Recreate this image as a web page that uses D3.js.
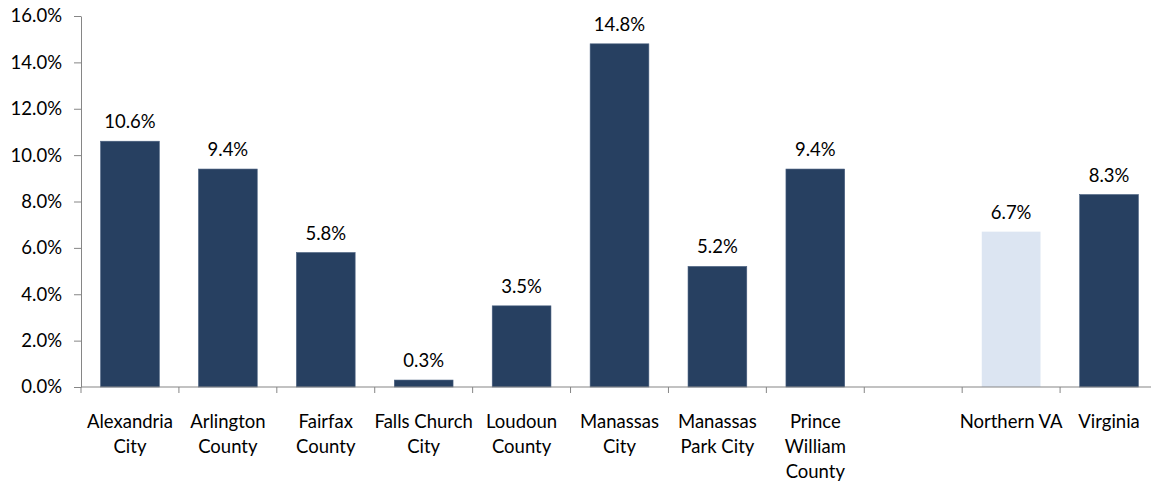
<!DOCTYPE html>
<html><head><meta charset="utf-8">
<script src="https://cdn.jsdelivr.net/npm/d3@7"></script>
<style>body{margin:0;background:#fff;} text{font-family:Lato,"Open Sans",sans-serif;fill:#000;}</style>
</head><body><svg id="c" width="1151" height="481"></svg>
<script>
const categories = ["Alexandria City","Arlington County","Fairfax County","Falls Church City","Loudoun County","Manassas City","Manassas Park City","Prince William County","","Northern VA","Virginia"];
const labelLines = [["Alexandria","City"],["Arlington","County"],["Fairfax","County"],["Falls Church","City"],["Loudoun","County"],["Manassas","City"],["Manassas","Park City"],["Prince","William","County"],[],["Northern VA"],["Virginia"]];
const values = [10.6, 9.4, 5.8, 0.3, 3.5, 14.8, 5.2, 9.4, null, 6.7, 8.3];
const highlight = ["Northern VA"];
const yTicks = [0,2,4,6,8,10,12,14,16];

const FS = 18.5;
const svg = d3.select("#c");
const x = d3.scaleBand().domain(categories).range([81,1158]).paddingInner(0.4).paddingOuter(0.2);
const y = d3.scaleLinear().domain([0,16]).range([387,16]);
const axisColor = "#868686";

// bars
svg.append("g").selectAll("rect").data(categories.map((c,i)=>({c,v:values[i]})).filter(d=>d.v!=null))
  .join("rect")
  .attr("x", d=>x(d.c)).attr("width", x.bandwidth())
  .attr("y", d=>y(d.v)).attr("height", d=>y(0)-y(d.v))
  .attr("fill", d=>highlight.includes(d.c)?"#dce5f2":"#274061")
  .attr("stroke", d=>highlight.includes(d.c)?"none":"#4a6080").attr("stroke-width",0.6);

// data labels
svg.append("g").selectAll("text").data(categories.map((c,i)=>({c,v:values[i]})).filter(d=>d.v!=null))
  .join("text")
  .attr("x", d=>x(d.c)+x.bandwidth()/2).attr("y", d=>y(d.v)-13)
  .attr("text-anchor","middle").attr("font-size",FS)
  .text(d=>d.v.toFixed(1)+"%");

// y axis
const ya = svg.append("g").attr("transform","translate(81,0)")
  .call(d3.axisLeft(y).tickValues(yTicks).tickSize(7).tickSizeOuter(0).tickPadding(12).tickFormat(d=>d.toFixed(1)+"%"));
ya.selectAll("line,path").attr("stroke",axisColor);
ya.selectAll("text").attr("font-size",FS).attr("font-family","Lato,'Open Sans',sans-serif").attr("fill","#000");

// x axis
const bounds = categories.map(c=>x(c)-x.step()*x.paddingInner()/2);
bounds.push(1158);
const xa = svg.append("g");
xa.append("line").attr("x1",81).attr("x2",1158).attr("y1",y(0)).attr("y2",y(0)).attr("stroke",axisColor).attr("stroke-width",1.2);
xa.selectAll("line.t").data(bounds).join("line").attr("class","t")
  .attr("x1",d=>d).attr("x2",d=>d).attr("y1",y(0)).attr("y2",y(0)+6).attr("stroke",axisColor);

const lab = svg.append("g").selectAll("text").data(categories.map((c,i)=>({c,lines:labelLines[i]})))
  .join("text")
  .attr("text-anchor","middle").attr("font-size",FS)
  .attr("x", d=>x(d.c)+x.bandwidth()/2);
lab.selectAll("tspan").data(d=>d.lines.map(l=>({l,x:x(d.c)+x.bandwidth()/2})))
  .join("tspan").attr("x",d=>d.x).attr("y",(d,i)=>428+i*25).text(d=>d.l);
</script></body></html>
